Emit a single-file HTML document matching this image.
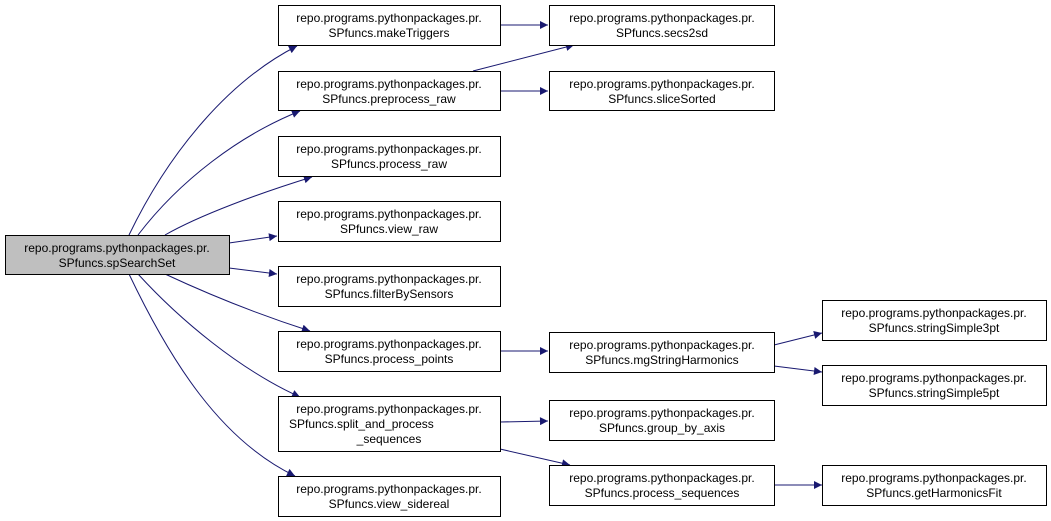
<!DOCTYPE html>
<html><head><style>
html,body{margin:0;padding:0;background:#fff;}
svg{display:block;}
text{font-family:"Liberation Sans",Arial,sans-serif;font-size:12px;fill:#000;}
</style></head><body>
<svg width="1051" height="521" viewBox="0 0 1051 521" xmlns="http://www.w3.org/2000/svg">
<defs>
<marker id="a" viewBox="0 0 10 10" refX="10" refY="5" markerWidth="10" markerHeight="8" markerUnits="userSpaceOnUse" orient="auto">
<path d="M0,0 L10,5 L0,10 z" fill="#191970"/>
</marker>
</defs>
<g fill="none" stroke="#191970" stroke-width="1" marker-end="url(#a)">
<path d="M129,235 C170,150 230,80 297,46"/>
<path d="M138,235 C180,180 240,135 300,111"/>
<path d="M165,235 C200,215 260,193 312,177"/>
<path d="M229,243 L277,236"/>
<path d="M229,268 L277,274"/>
<path d="M165,274 C210,295 260,315 310,331"/>
<path d="M138,274 C180,320 240,370 300,397"/>
<path d="M129,274 C170,360 220,440 295,476"/>
<path d="M500,25 L548,25"/>
<path d="M473,71 L574,45"/>
<path d="M500,91 L548,91"/>
<path d="M500,351 L548,351"/>
<path d="M500,422 L548,421"/>
<path d="M500,449 L570,465"/>
<path d="M774,345 L822,333"/>
<path d="M774,366 L822,372"/>
<path d="M774,485 L822,485"/>
</g>
<g stroke="#000" stroke-width="1">
<rect x="5.5" y="235.5" width="224" height="39" fill="#bfbfbf"/>
<rect x="278.5" y="5.5" width="222" height="40" fill="#fff"/>
<rect x="278.5" y="71.5" width="222" height="39" fill="#fff"/>
<rect x="278.5" y="136.5" width="222" height="40" fill="#fff"/>
<rect x="278.5" y="201.5" width="222" height="40" fill="#fff"/>
<rect x="278.5" y="266.5" width="222" height="40" fill="#fff"/>
<rect x="278.5" y="331.5" width="222" height="40" fill="#fff"/>
<rect x="278.5" y="396.5" width="222" height="55" fill="#fff"/>
<rect x="278.5" y="476.5" width="222" height="40" fill="#fff"/>
<rect x="549.5" y="5.5" width="225" height="40" fill="#fff"/>
<rect x="549.5" y="71.5" width="225" height="39" fill="#fff"/>
<rect x="549.5" y="332.5" width="225" height="40" fill="#fff"/>
<rect x="549.5" y="400.5" width="225" height="40" fill="#fff"/>
<rect x="549.5" y="465.5" width="225" height="40" fill="#fff"/>
<rect x="822.5" y="300.5" width="224" height="40" fill="#fff"/>
<rect x="822.5" y="365.5" width="224" height="40" fill="#fff"/>
<rect x="822.5" y="465.5" width="224" height="40" fill="#fff"/>
</g>
<g text-anchor="middle">
<text x="117" y="252">repo.programs.pythonpackages.pr.</text><text x="117" y="267">SPfuncs.spSearchSet</text>
<text x="389" y="22">repo.programs.pythonpackages.pr.</text><text x="389" y="37">SPfuncs.makeTriggers</text>
<text x="389" y="88">repo.programs.pythonpackages.pr.</text><text x="389" y="103">SPfuncs.preprocess_raw</text>
<text x="389" y="153">repo.programs.pythonpackages.pr.</text><text x="389" y="168">SPfuncs.process_raw</text>
<text x="389" y="218">repo.programs.pythonpackages.pr.</text><text x="389" y="233">SPfuncs.view_raw</text>
<text x="389" y="283">repo.programs.pythonpackages.pr.</text><text x="389" y="298">SPfuncs.filterBySensors</text>
<text x="389" y="348">repo.programs.pythonpackages.pr.</text><text x="389" y="363">SPfuncs.process_points</text>
<text x="389" y="413">repo.programs.pythonpackages.pr.</text>
<text x="289" y="428" text-anchor="start">SPfuncs.split_and_process</text>
<text x="389" y="443">_sequences</text>
<text x="389" y="493">repo.programs.pythonpackages.pr.</text><text x="389" y="508">SPfuncs.view_sidereal</text>
<text x="662" y="22">repo.programs.pythonpackages.pr.</text><text x="662" y="37">SPfuncs.secs2sd</text>
<text x="662" y="88">repo.programs.pythonpackages.pr.</text><text x="662" y="103">SPfuncs.sliceSorted</text>
<text x="662" y="349">repo.programs.pythonpackages.pr.</text><text x="662" y="364">SPfuncs.mgStringHarmonics</text>
<text x="662" y="417">repo.programs.pythonpackages.pr.</text><text x="662" y="432">SPfuncs.group_by_axis</text>
<text x="662" y="482">repo.programs.pythonpackages.pr.</text><text x="662" y="497">SPfuncs.process_sequences</text>
<text x="934" y="317">repo.programs.pythonpackages.pr.</text><text x="934" y="332">SPfuncs.stringSimple3pt</text>
<text x="934" y="382">repo.programs.pythonpackages.pr.</text><text x="934" y="397">SPfuncs.stringSimple5pt</text>
<text x="934" y="482">repo.programs.pythonpackages.pr.</text><text x="934" y="497">SPfuncs.getHarmonicsFit</text>
</g>
</svg>
</body></html>
